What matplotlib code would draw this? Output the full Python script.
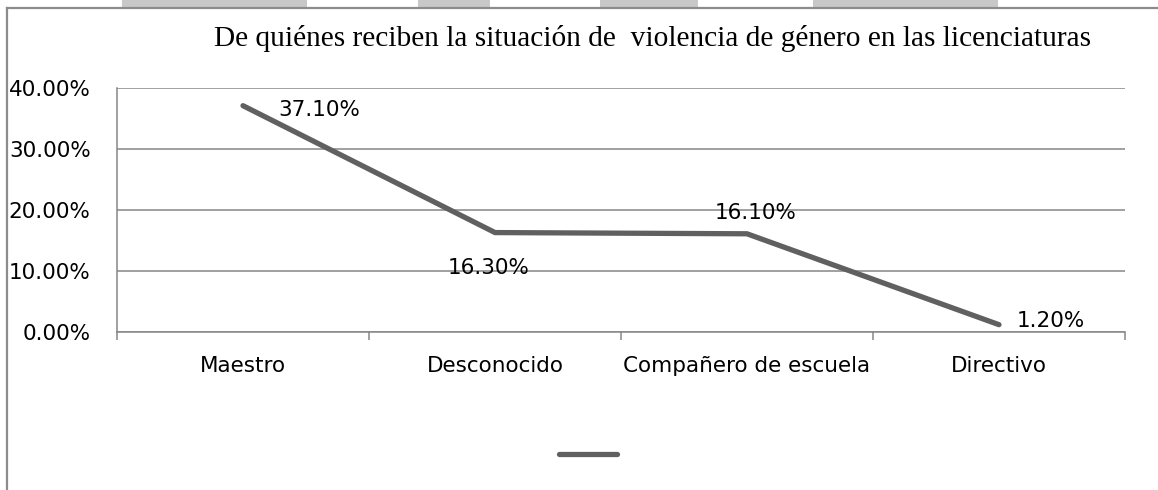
import matplotlib.pyplot as plt
from matplotlib.lines import Line2D
from matplotlib.patches import Rectangle
from matplotlib.ticker import FixedLocator, PercentFormatter

# Data
categories = ["Maestro", "Desconocido", "Compañero de escuela", "Directivo"]
values = [0.371, 0.163, 0.161, 0.012]
value_labels = ["37.10%", "16.30%", "16.10%", "1.20%"]
yticks = [0.0, 0.1, 0.2, 0.3, 0.4]
title = "De quiénes reciben la situación de  violencia de género en las licenciaturas"

# label offsets (pixels) relative to each point
label_offsets = [(76, -4), (-6, -35), (9, 21), (52, 4)]

W, H = 1158, 490
fig = plt.figure(figsize=(W / 100, H / 100), dpi=100)

# page decoration: gray blocks along the top and chart frame
for x0, x1 in [(122, 307), (418, 490), (600, 698), (813, 998)]:
    fig.add_artist(Rectangle((x0 / W, 1 - 7 / H), (x1 - x0) / W, 7 / H,
                             transform=fig.transFigure, color="#c8c8c8", lw=0))
fig.add_artist(Line2D([7 / W, 7 / W], [0, 1 - 8 / H], transform=fig.transFigure,
                      color="#8c8c8c", lw=1.6))
fig.add_artist(Line2D([7 / W, 1], [1 - 8 / H, 1 - 8 / H], transform=fig.transFigure,
                      color="#8c8c8c", lw=1.6))

# plot area
left, right, top, bottom = 117, 1125, 88, 332
ax = fig.add_axes([left / W, 1 - bottom / H, (right - left) / W, (bottom - top) / H])

x = list(range(len(categories)))
line, = ax.plot(x, values, color="#606060", lw=3.8, solid_capstyle="round",
                solid_joinstyle="miter", zorder=3)

ax.set_xlim(-0.5, len(categories) - 0.5)
ax.set_ylim(0, 0.4)
ax.set_yticks(yticks)
ax.yaxis.set_major_formatter(PercentFormatter(1.0, decimals=2))
ax.grid(axis="y", color="#868686", lw=1.1)
ax.set_axisbelow(True)

ax.set_xticks(x)
ax.set_xticklabels(categories)
ax.xaxis.set_minor_locator(FixedLocator([i - 0.5 for i in range(len(categories) + 1)]))
ax.tick_params(axis="x", which="major", length=0, pad=17)
ax.tick_params(axis="x", which="minor", length=6, width=1.1, color="#868686", direction="out")
ax.tick_params(axis="y", length=0, pad=19)
ax.tick_params(labelsize=15.5)

for s in ["top", "right"]:
    ax.spines[s].set_visible(False)
for s in ["left", "bottom"]:
    ax.spines[s].set_color("#868686")
    ax.spines[s].set_linewidth(1.1)

for xi, v, lab, off in zip(x, values, value_labels, label_offsets):
    ax.annotate(lab, (xi, v), xytext=off, textcoords="offset pixels",
                ha="center", va="center", fontsize=15.5, color="#000000")

fig.text(653 / W, 1 - 38 / H, title, ha="center", va="center",
         family="Liberation Serif", fontsize=21.2)

fig.legend(handles=[line], labels=[""], loc="center",
           bbox_to_anchor=(588 / W, 1 - 455 / H), frameon=False,
           handlelength=2.8, fontsize=15, handletextpad=0, borderpad=0)

fig.savefig("out.png", dpi=100)
